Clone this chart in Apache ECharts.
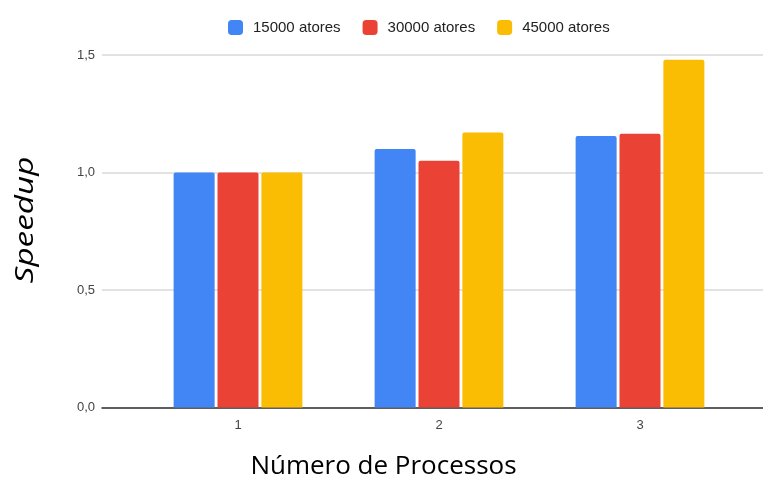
<!DOCTYPE html>
<html>
<head>
<meta charset="utf-8">
<script src="https://cdn.jsdelivr.net/npm/echarts@6/dist/echarts.min.js"></script>
<style>
  html, body { margin: 0; padding: 0; background: #fff; }
  #chart { width: 763px; height: 483px; }
</style>
</head>
<body>
<div id="chart"></div>
<script>
// Number of processes on the horizontal axis
const categories = ['1', '2', '3'];

// Speedup per system size
const seriesNames = ['15000 atores', '30000 atores', '45000 atores'];
const speedup15000 = [1.00, 1.10, 1.155];
const speedup30000 = [1.00, 1.05, 1.165];
const speedup45000 = [1.00, 1.17, 1.48];

// Value axis ticks
const yTicks = [0, 0.5, 1.0, 1.5];

const colors = ['#4285F4', '#EA4335', '#FBBC04'];

const chart = echarts.init(document.getElementById('chart'), null, { renderer: 'canvas' });

const plotTop = 55, plotBottom = 75.5;
const fmt = v => v.toFixed(1).replace('.', ',');

const barSeries = [speedup15000, speedup30000, speedup45000].map((d, i) => ({
  name: seriesNames[i],
  type: 'bar',
  xAxisIndex: 1,
  yAxisIndex: 1,
  data: d,
  barWidth: 41,
  barGap: '7%',
  itemStyle: { color: colors[i], borderRadius: [2, 2, 0, 0] },
  emphasis: { disabled: true }
}));

chart.setOption({
  animation: false,
  color: colors,
  legend: {
    data: seriesNames,
    left: 223,
    top: 15,
    itemWidth: 15,
    itemHeight: 15,
    itemGap: 22,
    icon: 'roundRect',
    textStyle: { fontFamily: 'Liberation Sans, Arial', fontSize: 15, color: '#222', padding: [0, 0, 0, 5] }
  },
  grid: [
    // full-width frame: gridlines, value labels and baseline
    { left: 102, right: 0, top: plotTop, bottom: plotBottom },
    // bar area
    { left: 137.5, width: 603, top: plotTop, bottom: plotBottom }
  ],
  xAxis: [
    {
      gridIndex: 0, type: 'value', min: 0, max: 1,
      axisLine: { show: true, onZero: false, lineStyle: { color: '#333', width: 1.5 } },
      axisTick: { show: false }, axisLabel: { show: false }, splitLine: { show: false }
    },
    {
      gridIndex: 1, type: 'category', data: categories,
      axisLine: { show: false }, axisTick: { show: false },
      axisLabel: { margin: 11, fontFamily: 'Liberation Sans, Arial', fontSize: 13, color: '#444' }
    }
  ],
  yAxis: [
    {
      gridIndex: 0, type: 'value', min: 0, max: 1.5, interval: 0.5,
      axisLine: { show: false }, axisTick: { show: false },
      axisLabel: { margin: 7, formatter: fmt, fontFamily: 'Liberation Sans, Arial', fontSize: 13, color: '#444' },
      splitLine: { lineStyle: { color: '#d9d9d9', width: 1.5 } }
    },
    {
      gridIndex: 1, type: 'value', min: yTicks[0], max: yTicks[yTicks.length - 1],
      show: false, splitLine: { show: false }
    }
  ],
  graphic: [
    {
      type: 'text', x: 26, y: 220, rotation: Math.PI / 2, scaleX: 1.28,
      style: {
        text: 'Speedup', fontFamily: 'Open Sans', fontStyle: 'italic', fontSize: 26,
        fill: '#000', textAlign: 'center', textVerticalAlign: 'middle'
      }
    },
    {
      type: 'text', x: 383.5, y: 467,
      style: {
        text: 'Número de Processos', fontFamily: 'Open Sans', fontSize: 26,
        fill: '#000', textAlign: 'center', textVerticalAlign: 'middle'
      }
    }
  ],
  series: barSeries
});
</script>
</body>
</html>
